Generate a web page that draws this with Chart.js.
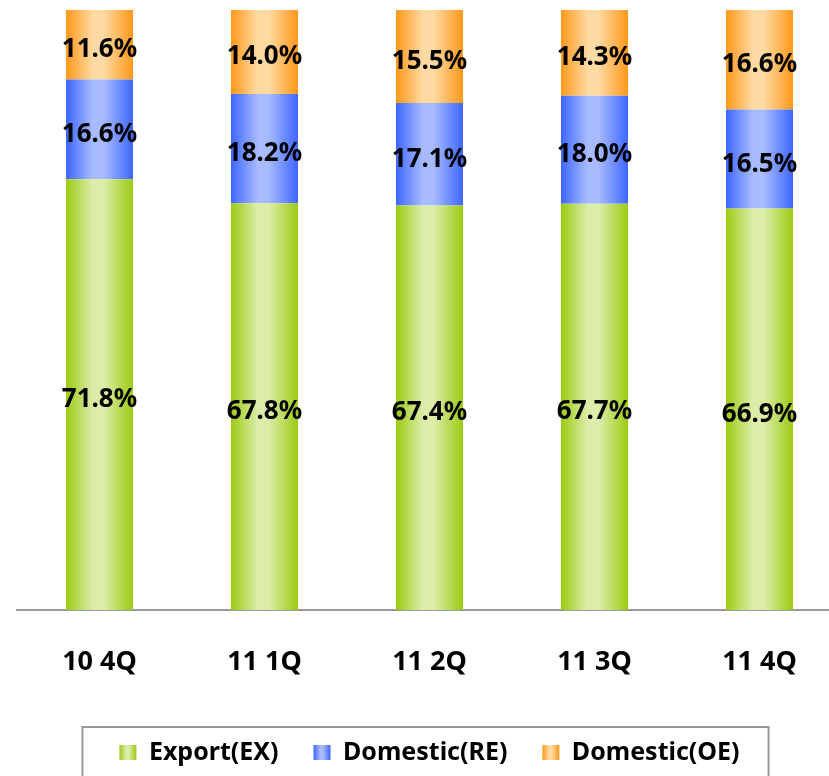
<!DOCTYPE html>
<html>
<head>
<meta charset="utf-8">
<script src="https://cdn.jsdelivr.net/npm/chart.js@4"></script>
<style>
  html, body { margin: 0; padding: 0; background: #fff; overflow: hidden; }
  #wrap { width: 842px; height: 776px; }
</style>
</head>
<body>
<div id="wrap"><canvas id="c" width="842" height="776"></canvas></div>
<script>
const categories = ['10 4Q', '11 1Q', '11 2Q', '11 3Q', '11 4Q'];
const exportEX = [71.8, 67.8, 67.4, 67.7, 66.9];
const domesticRE = [16.6, 18.2, 17.1, 18.0, 16.5];
const domesticOE = [11.6, 14.0, 15.5, 14.3, 16.6];
const seriesNames = ['Export(EX)', 'Domestic(RE)', 'Domestic(OE)'];

// [edge, centre] colours of each bar gradient
const shades = [
    ['#9ccb12', '#dcedaa'],
    ['#3d66ff', '#a8bbff'],
    ['#ff981a', '#ffdaa2'],
];

const barFrac = 0.406;

function grad(ctx2d, x0, w, s) {
    if (!isFinite(x0) || !isFinite(w) || w <= 0) return s[0];
    const g = ctx2d.createLinearGradient(x0, 0, x0 + w, 0);
    g.addColorStop(0, s[0]);
    g.addColorStop(0.4, s[1]);
    g.addColorStop(0.56, s[1]);
    g.addColorStop(1, s[0]);
    return g;
}

function barFill(si) {
    return function (ctx) {
        const chart = ctx.chart;
        const xs = chart.scales.x;
        if (!xs || ctx.dataIndex == null) return shades[si][0];
        const cx = xs.getPixelForValue(ctx.dataIndex);
        const w = (xs.width / categories.length) * barFrac;
        return grad(chart.ctx, cx - w / 2, w, shades[si]);
    };
}

// legend keeps a fixed height and gets gradient boxes + a frame
const legendTweaks = {
    id: 'legendTweaks',
    beforeLayout(chart) {
        const lg = chart.legend;
        if (lg && !lg._patched) {
            const fit = lg.fit;
            lg.fit = function () {
                fit.call(this);
                this.height = 71;
            };
            lg._patched = true;
        }
    },
    beforeDraw(chart) {
        const lg = chart.legend;
        if (!lg || !lg.legendHitBoxes) return;
        lg.legendHitBoxes.forEach((hb, i) => {
            if (lg.legendItems[i]) {
                lg.legendItems[i].fillStyle = grad(chart.ctx, hb.left, 17, shades[i]);
            }
        });
    },
    afterDraw(chart) {
        const lg = chart.legend;
        if (!lg || !lg.legendHitBoxes || !lg.legendHitBoxes.length) return;
        const hbs = lg.legendHitBoxes;
        const left = hbs[0].left - 37;
        const last = hbs[hbs.length - 1];
        const right = last.left + last.width + 29;
        const top = hbs[0].top - 13;
        const c = chart.ctx;
        c.save();
        c.strokeStyle = '#9a9a9a';
        c.lineWidth = 2;
        c.strokeRect(left, top, right - left, 100);
        c.restore();
    }
};

// percent labels in the middle of each segment
const segLabels = {
    id: 'segLabels',
    afterDatasetsDraw(chart) {
        const c = chart.ctx;
        c.save();
        c.font = 'bold 26px "Noto Sans"';
        c.fillStyle = '#000';
        c.textAlign = 'center';
        c.textBaseline = 'middle';
        chart.data.datasets.forEach((ds, di) => {
            chart.getDatasetMeta(di).data.forEach((bar, i) => {
                const y = (bar.y + bar.base) / 2 + 5;
                c.fillText(ds.data[i].toFixed(1) + '%', bar.x, y);
            });
        });
        c.restore();
    }
};

const datasets = [exportEX, domesticRE, domesticOE].map((vals, si) => ({
    label: seriesNames[si],
    data: vals,
    backgroundColor: barFill(si),
    borderWidth: 0,
    barPercentage: 1,
    categoryPercentage: barFrac,
}));

new Chart(document.getElementById('c'), {
    type: 'bar',
    data: { labels: categories, datasets },
    options: {
        responsive: false,
        animation: false,
        devicePixelRatio: 1,
        layout: { padding: { top: 10, left: 17, right: 0, bottom: 0 } },
        font: { family: '"Noto Sans"' },
        scales: {
            x: {
                stacked: true,
                grid: { display: false, drawTicks: false },
                border: { display: true, color: '#9a9a9a', width: 2 },
                ticks: { color: '#000', padding: 36, font: { family: '"Noto Sans"', size: 27, weight: 'bold' } },
                afterFit: (s) => { s.height = 95; },
            },
            y: {
                stacked: true,
                display: false,
                min: 0,
                max: 100,
            },
        },
        plugins: {
            tooltip: { enabled: false },
            legend: {
                position: 'bottom',
                labels: {
                    color: '#000',
                    boxWidth: 17,
                    boxHeight: 15,
                    padding: 35,
                    font: { family: '"Noto Sans"', size: 25, weight: 'bold' },
                },
            },
        },
    },
    plugins: [legendTweaks, segLabels],
});
</script>
</body>
</html>
